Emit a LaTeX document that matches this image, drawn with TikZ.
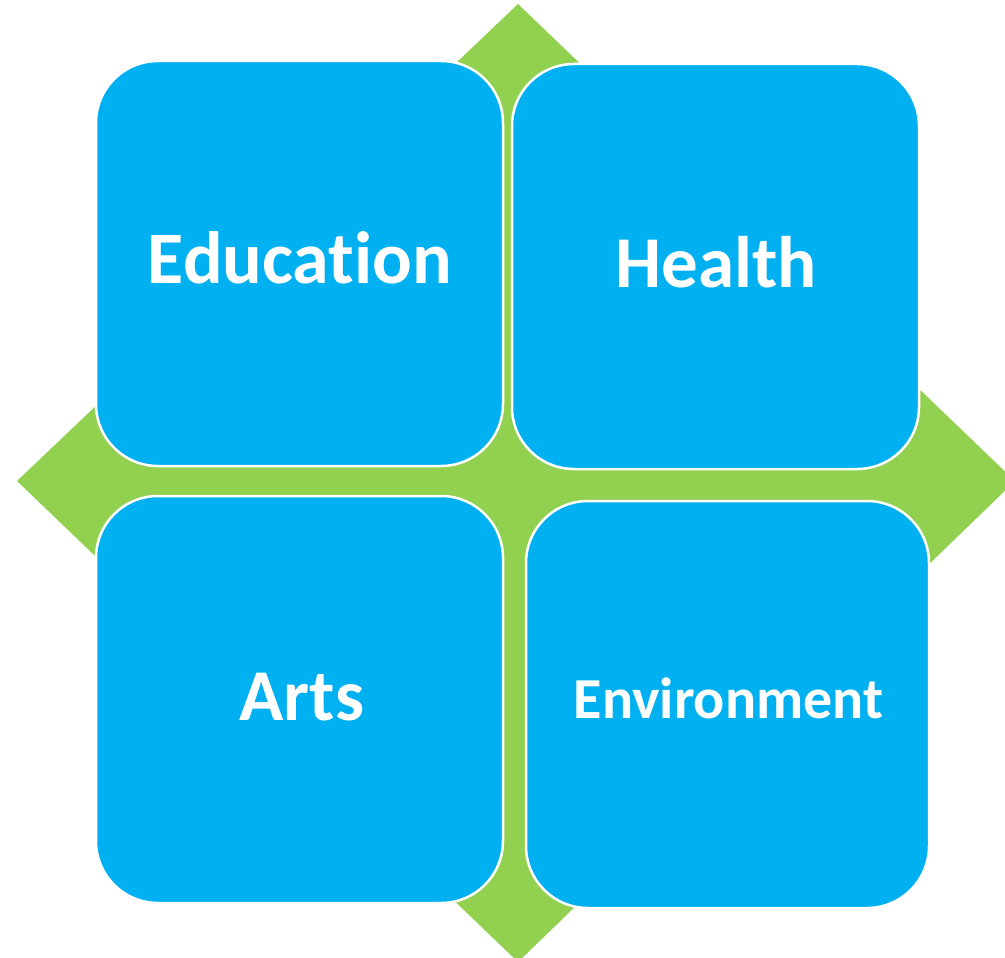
\documentclass[tikz,border=0pt]{standalone}
\usepackage{fontspec}
\setmainfont[Ligatures=NoCommon]{Carlito}
\definecolor{boxblue}{HTML}{00B0F0}
\definecolor{crossgreen}{HTML}{92D050}
\begin{document}
\begin{tikzpicture}[x=1pt,y=-1pt,
  tile/.style={fill=boxblue, draw=white, line width=2.5pt, rounded corners=62pt, inner sep=0pt},
  lbl/.style={text=white, font=\bfseries, anchor=base, inner sep=0pt}]
\useasboundingbox (0,0) rectangle (1005,958);
\clip (0,0) rectangle (1005,958);
% green diamond behind
\fill[crossgreen] (518,4) -- (1015,481) -- (518,962) -- (17,481) -- cycle;
% tiles
\node[tile, minimum width=407pt, minimum height=405pt] (edu) at (299.5,263.5) {};
\node[tile, minimum width=407pt, minimum height=405pt] (hea) at (715.5,266.5) {};
\node[tile, minimum width=407pt, minimum height=407pt] (art) at (299.5,699.5) {};
\node[tile, minimum width=403pt, minimum height=407pt] (env) at (727.5,704.5) {};
% labels
\node[lbl, font=\fontsize{74}{80}\selectfont\bfseries] (edut) at (300,283) {Education};
\node[lbl, font=\fontsize{73}{80}\selectfont\bfseries] (heat) at (716,287) {Health};
\node[lbl, font=\fontsize{73}{80}\selectfont\bfseries] (artt) at (302,720) {Arts};
\node[lbl, font=\fontsize{58}{62}\selectfont\bfseries] (envt) at (728.5,718) {Environment};
\end{tikzpicture}
\end{document}
